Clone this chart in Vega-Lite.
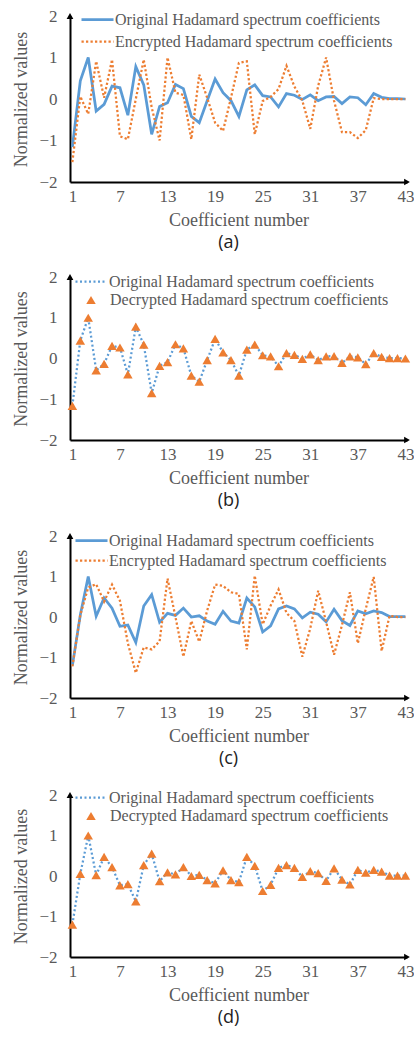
{
  "$schema": "https://vega.github.io/schema/vega-lite/v6.json",
  "padding": {"left": 12, "top": 2, "right": 0, "bottom": 0},
  "config": {
    "view": {"stroke": null},
    "concat": {"spacing": 13},
    "axis": {"ticks": false, "grid": false, "domainColor": "#000000", "domainWidth": 2, "labelFont": "Liberation Serif", "labelFontSize": 17, "labelColor": "#595959", "titleFont": "Liberation Serif", "titleFontSize": 18, "titleFontWeight": "normal", "titleColor": "#595959", "labelFlush": false, "labelOverlap": false},
    "axisX": {"labelPadding": 6, "titlePadding": 7},
    "axisY": {"labelPadding": 13, "titlePadding": 8},
    "legend": {"orient": "none", "title": null, "padding": 0, "labelFont": "Liberation Serif", "labelFontSize": 16, "labelColor": "#595959", "labelLimit": 400},
    "title": {"orient": "bottom", "font": "Open Sans", "fontSize": 18, "fontWeight": "normal", "color": "#222222", "anchor": "middle", "frame": "group", "offset": 5, "dx": -10}
  },
  "datasets": {
    "setA": [
      {"n": 1, "original": -1.16, "encrypted": -1.52},
      {"n": 2, "original": 0.44, "encrypted": 0.06},
      {"n": 3, "original": 1.0, "encrypted": -0.36},
      {"n": 4, "original": -0.29, "encrypted": 0.91},
      {"n": 5, "original": -0.13, "encrypted": 0.03},
      {"n": 6, "original": 0.31, "encrypted": 0.95},
      {"n": 7, "original": 0.27, "encrypted": -0.9},
      {"n": 8, "original": -0.39, "encrypted": -0.97},
      {"n": 9, "original": 0.78, "encrypted": 0.0},
      {"n": 10, "original": 0.34, "encrypted": 0.95},
      {"n": 11, "original": -0.85, "encrypted": -0.2},
      {"n": 12, "original": -0.18, "encrypted": -1.0},
      {"n": 13, "original": -0.09, "encrypted": 1.0},
      {"n": 14, "original": 0.35, "encrypted": 0.15},
      {"n": 15, "original": 0.25, "encrypted": 0.1},
      {"n": 16, "original": -0.42, "encrypted": -0.97},
      {"n": 17, "original": -0.57, "encrypted": 0.59},
      {"n": 18, "original": -0.04, "encrypted": 0.03},
      {"n": 19, "original": 0.48, "encrypted": -0.57},
      {"n": 20, "original": 0.15, "encrypted": -0.77},
      {"n": 21, "original": -0.04, "encrypted": 0.03},
      {"n": 22, "original": -0.42, "encrypted": 0.87},
      {"n": 23, "original": 0.22, "encrypted": 0.91},
      {"n": 24, "original": 0.34, "encrypted": -0.85},
      {"n": 25, "original": 0.08, "encrypted": -0.05},
      {"n": 26, "original": 0.05, "encrypted": 0.05},
      {"n": 27, "original": -0.19, "encrypted": 0.24},
      {"n": 28, "original": 0.13, "encrypted": 0.8},
      {"n": 29, "original": 0.09, "encrypted": 0.3},
      {"n": 30, "original": -0.01, "encrypted": -0.04},
      {"n": 31, "original": 0.1, "encrypted": -0.72},
      {"n": 32, "original": -0.04, "encrypted": 0.32},
      {"n": 33, "original": 0.05, "encrypted": 1.0},
      {"n": 34, "original": 0.06, "encrypted": -0.04},
      {"n": 35, "original": -0.11, "encrypted": -0.8},
      {"n": 36, "original": 0.05, "encrypted": -0.8},
      {"n": 37, "original": 0.03, "encrypted": -0.94},
      {"n": 38, "original": -0.14, "encrypted": -0.75},
      {"n": 39, "original": 0.13, "encrypted": 0.02},
      {"n": 40, "original": 0.04, "encrypted": 0.0},
      {"n": 41, "original": 0.01, "encrypted": 0.0},
      {"n": 42, "original": 0.01, "encrypted": 0.0},
      {"n": 43, "original": 0.0, "encrypted": 0.0}
    ],
    "setC": [
      {"n": 1, "original": -1.2, "encrypted": -1.22},
      {"n": 2, "original": 0.05, "encrypted": 0.05},
      {"n": 3, "original": 1.0, "encrypted": 0.73},
      {"n": 4, "original": 0.02, "encrypted": 0.81},
      {"n": 5, "original": 0.47, "encrypted": 0.38},
      {"n": 6, "original": 0.22, "encrypted": 0.8},
      {"n": 7, "original": -0.23, "encrypted": 0.4},
      {"n": 8, "original": -0.2, "encrypted": -0.65},
      {"n": 9, "original": -0.63, "encrypted": -1.38},
      {"n": 10, "original": 0.27, "encrypted": -0.75},
      {"n": 11, "original": 0.55, "encrypted": -0.8},
      {"n": 12, "original": -0.13, "encrypted": -0.6},
      {"n": 13, "original": 0.09, "encrypted": 0.95},
      {"n": 14, "original": 0.04, "encrypted": 0.0},
      {"n": 15, "original": 0.22, "encrypted": -0.98},
      {"n": 16, "original": 0.0, "encrypted": -0.1},
      {"n": 17, "original": 0.03, "encrypted": -0.61},
      {"n": 18, "original": -0.1, "encrypted": 0.16},
      {"n": 19, "original": -0.18, "encrypted": 0.8},
      {"n": 20, "original": 0.14, "encrypted": 0.77},
      {"n": 21, "original": -0.1, "encrypted": 0.61},
      {"n": 22, "original": -0.15, "encrypted": 0.57},
      {"n": 23, "original": 0.47, "encrypted": -0.8},
      {"n": 24, "original": 0.25, "encrypted": 1.02},
      {"n": 25, "original": -0.37, "encrypted": -0.18},
      {"n": 26, "original": -0.22, "encrypted": 0.28},
      {"n": 27, "original": 0.2, "encrypted": 0.68},
      {"n": 28, "original": 0.27, "encrypted": 0.1},
      {"n": 29, "original": 0.2, "encrypted": -0.1},
      {"n": 30, "original": -0.02, "encrypted": -0.98},
      {"n": 31, "original": 0.12, "encrypted": -0.28},
      {"n": 32, "original": 0.07, "encrypted": 0.65},
      {"n": 33, "original": -0.12, "encrypted": -0.12},
      {"n": 34, "original": 0.19, "encrypted": -0.93},
      {"n": 35, "original": -0.09, "encrypted": -0.2},
      {"n": 36, "original": -0.21, "encrypted": 0.61},
      {"n": 37, "original": 0.15, "encrypted": -0.65},
      {"n": 38, "original": 0.08, "encrypted": 0.2},
      {"n": 39, "original": 0.15, "encrypted": 0.99},
      {"n": 40, "original": 0.11, "encrypted": -0.84},
      {"n": 41, "original": 0.01, "encrypted": 0.03},
      {"n": 42, "original": 0.01, "encrypted": 0.0},
      {"n": 43, "original": 0.01, "encrypted": 0.0}
    ]
  },
  "vconcat": [
    {
      "width": 337, "height": 166,
      "title": {"text": "(a)"},
      "data": {"name": "setA"},
      "layer": [
        {"mark": {"type": "line", "strokeWidth": 2.75, "color": "#5B9BD5"},
         "encoding": {
           "x": {"field": "n", "type": "quantitative", "scale": {"domain": [0.7, 43.2], "nice": false, "zero": false}, "axis": {"title": "Coefficient number", "values": [1, 7, 13, 19, 25, 31, 37, 43]}},
           "y": {"field": "original", "type": "quantitative", "scale": {"domain": [-2, 2], "nice": false}, "axis": {"title": "Normalized values", "values": [-2, -1, 0, 1, 2]}},
           "color": {"datum": "Original Hadamard spectrum coefficients", "scale": {"range": ["#5B9BD5"]}, "legend": {"legendX": 10, "legendY": -14, "symbolType": "stroke", "symbolSize": 1024, "symbolStrokeWidth": 2.75, "labelOffset": 0}}
         }},
        {"mark": {"type": "line", "strokeWidth": 2.25, "strokeDash": [2.25, 2.25], "color": "#ED7D31"},
         "encoding": {
           "x": {"field": "n", "type": "quantitative"},
           "y": {"field": "encrypted", "type": "quantitative"},
           "color": {"datum": "Encrypted Hadamard spectrum coefficients", "scale": {"range": ["#ED7D31"]}, "legend": {"legendX": 10, "legendY": 8, "symbolType": "stroke", "symbolSize": 1024, "symbolStrokeWidth": 2.25, "symbolDash": [2.25, 2.25], "labelOffset": 0}}
         }},
        {"data": {"values": [{}]}, "mark": {"type": "point", "shape": "triangle-up", "filled": true, "color": "#000000", "size": 45, "opacity": 1},
         "encoding": {"x": {"datum": 0.7, "type": "quantitative"}, "y": {"datum": 2, "type": "quantitative"}}},
        {"data": {"values": [{}]}, "mark": {"type": "point", "shape": "triangle-right", "filled": true, "color": "#000000", "size": 45, "opacity": 1},
         "encoding": {"x": {"datum": 43.2, "type": "quantitative"}, "y": {"datum": -2, "type": "quantitative"}}}
      ],
      "resolve": {"scale": {"color": "independent"}, "legend": {"color": "independent"}}
    },
    {
      "width": 337, "height": 163,
      "title": {"text": "(b)"},
      "data": {"name": "setA"},
      "layer": [
        {"mark": {"type": "line", "strokeWidth": 2.25, "strokeDash": [2, 2.5], "color": "#5B9BD5"},
         "encoding": {
           "x": {"field": "n", "type": "quantitative", "scale": {"domain": [0.7, 43.2], "nice": false, "zero": false}, "axis": {"title": "Coefficient number", "values": [1, 7, 13, 19, 25, 31, 37, 43]}},
           "y": {"field": "original", "type": "quantitative", "scale": {"domain": [-2, 2], "nice": false}, "axis": {"title": "Normalized values", "values": [-2, -1, 0, 1, 2]}},
           "color": {"datum": "Original Hadamard spectrum coefficients", "scale": {"range": ["#5B9BD5"]}, "legend": {"legendX": 4, "legendY": -12, "symbolType": "stroke", "symbolSize": 900, "symbolStrokeWidth": 2.25, "symbolDash": [2, 2.5], "labelOffset": 2}}
         }},
        {"mark": {"type": "point", "shape": "triangle-up", "filled": true, "size": 90, "opacity": 1, "color": "#ED7D31"},
         "encoding": {
           "x": {"field": "n", "type": "quantitative"},
           "y": {"field": "original", "type": "quantitative"},
           "color": {"datum": "Decrypted Hadamard spectrum coefficients", "scale": {"range": ["#ED7D31"]}, "legend": {"legendX": 13, "legendY": 15, "symbolType": "triangle-up", "symbolSize": 90, "symbolFillColor": "#ED7D31", "symbolStrokeWidth": 0, "labelOffset": 11}}
         }},
        {"data": {"values": [{}]}, "mark": {"type": "point", "shape": "triangle-up", "filled": true, "color": "#000000", "size": 45, "opacity": 1},
         "encoding": {"x": {"datum": 0.7, "type": "quantitative"}, "y": {"datum": 2, "type": "quantitative"}}},
        {"data": {"values": [{}]}, "mark": {"type": "point", "shape": "triangle-right", "filled": true, "color": "#000000", "size": 45, "opacity": 1},
         "encoding": {"x": {"datum": 43.2, "type": "quantitative"}, "y": {"datum": -2, "type": "quantitative"}}}
      ],
      "resolve": {"scale": {"color": "independent"}, "legend": {"color": "independent"}}
    },
    {
      "width": 337, "height": 162,
      "title": {"text": "(c)"},
      "data": {"name": "setC"},
      "layer": [
        {"mark": {"type": "line", "strokeWidth": 2.75, "color": "#5B9BD5"},
         "encoding": {
           "x": {"field": "n", "type": "quantitative", "scale": {"domain": [0.7, 43.2], "nice": false, "zero": false}, "axis": {"title": "Coefficient number", "values": [1, 7, 13, 19, 25, 31, 37, 43]}},
           "y": {"field": "original", "type": "quantitative", "scale": {"domain": [-2, 2], "nice": false}, "axis": {"title": "Normalized values", "values": [-2, -1, 0, 1, 2]}},
           "color": {"datum": "Original Hadamard spectrum coefficients", "scale": {"range": ["#5B9BD5"]}, "legend": {"legendX": 4, "legendY": -13, "symbolType": "stroke", "symbolSize": 1024, "symbolStrokeWidth": 2.75, "labelOffset": 0}}
         }},
        {"mark": {"type": "line", "strokeWidth": 2.25, "strokeDash": [2.25, 2.25], "color": "#ED7D31"},
         "encoding": {
           "x": {"field": "n", "type": "quantitative"},
           "y": {"field": "encrypted", "type": "quantitative"},
           "color": {"datum": "Encrypted Hadamard spectrum coefficients", "scale": {"range": ["#ED7D31"]}, "legend": {"legendX": 4, "legendY": 7, "symbolType": "stroke", "symbolSize": 1024, "symbolStrokeWidth": 2.25, "symbolDash": [2.25, 2.25], "labelOffset": 0}}
         }},
        {"data": {"values": [{}]}, "mark": {"type": "point", "shape": "triangle-up", "filled": true, "color": "#000000", "size": 45, "opacity": 1},
         "encoding": {"x": {"datum": 0.7, "type": "quantitative"}, "y": {"datum": 2, "type": "quantitative"}}},
        {"data": {"values": [{}]}, "mark": {"type": "point", "shape": "triangle-right", "filled": true, "color": "#000000", "size": 45, "opacity": 1},
         "encoding": {"x": {"datum": 43.2, "type": "quantitative"}, "y": {"datum": -2, "type": "quantitative"}}}
      ],
      "resolve": {"scale": {"color": "independent"}, "legend": {"color": "independent"}}
    },
    {
      "width": 337, "height": 162,
      "title": {"text": "(d)"},
      "data": {"name": "setC"},
      "layer": [
        {"mark": {"type": "line", "strokeWidth": 2.25, "strokeDash": [2, 2.5], "color": "#5B9BD5"},
         "encoding": {
           "x": {"field": "n", "type": "quantitative", "scale": {"domain": [0.7, 43.2], "nice": false, "zero": false}, "axis": {"title": "Coefficient number", "values": [1, 7, 13, 19, 25, 31, 37, 43]}},
           "y": {"field": "original", "type": "quantitative", "scale": {"domain": [-2, 2], "nice": false}, "axis": {"title": "Normalized values", "values": [-2, -1, 0, 1, 2]}},
           "color": {"datum": "Original Hadamard spectrum coefficients", "scale": {"range": ["#5B9BD5"]}, "legend": {"legendX": 4, "legendY": -14, "symbolType": "stroke", "symbolSize": 900, "symbolStrokeWidth": 2.25, "symbolDash": [2, 2.5], "labelOffset": 2}}
         }},
        {"mark": {"type": "point", "shape": "triangle-up", "filled": true, "size": 90, "opacity": 1, "color": "#ED7D31"},
         "encoding": {
           "x": {"field": "n", "type": "quantitative"},
           "y": {"field": "original", "type": "quantitative"},
           "color": {"datum": "Decrypted Hadamard spectrum coefficients", "scale": {"range": ["#ED7D31"]}, "legend": {"legendX": 13, "legendY": 13, "symbolType": "triangle-up", "symbolSize": 90, "symbolFillColor": "#ED7D31", "symbolStrokeWidth": 0, "labelOffset": 11}}
         }},
        {"data": {"values": [{}]}, "mark": {"type": "point", "shape": "triangle-up", "filled": true, "color": "#000000", "size": 45, "opacity": 1},
         "encoding": {"x": {"datum": 0.7, "type": "quantitative"}, "y": {"datum": 2, "type": "quantitative"}}},
        {"data": {"values": [{}]}, "mark": {"type": "point", "shape": "triangle-right", "filled": true, "color": "#000000", "size": 45, "opacity": 1},
         "encoding": {"x": {"datum": 43.2, "type": "quantitative"}, "y": {"datum": -2, "type": "quantitative"}}}
      ],
      "resolve": {"scale": {"color": "independent"}, "legend": {"color": "independent"}}
    }
  ]
}
